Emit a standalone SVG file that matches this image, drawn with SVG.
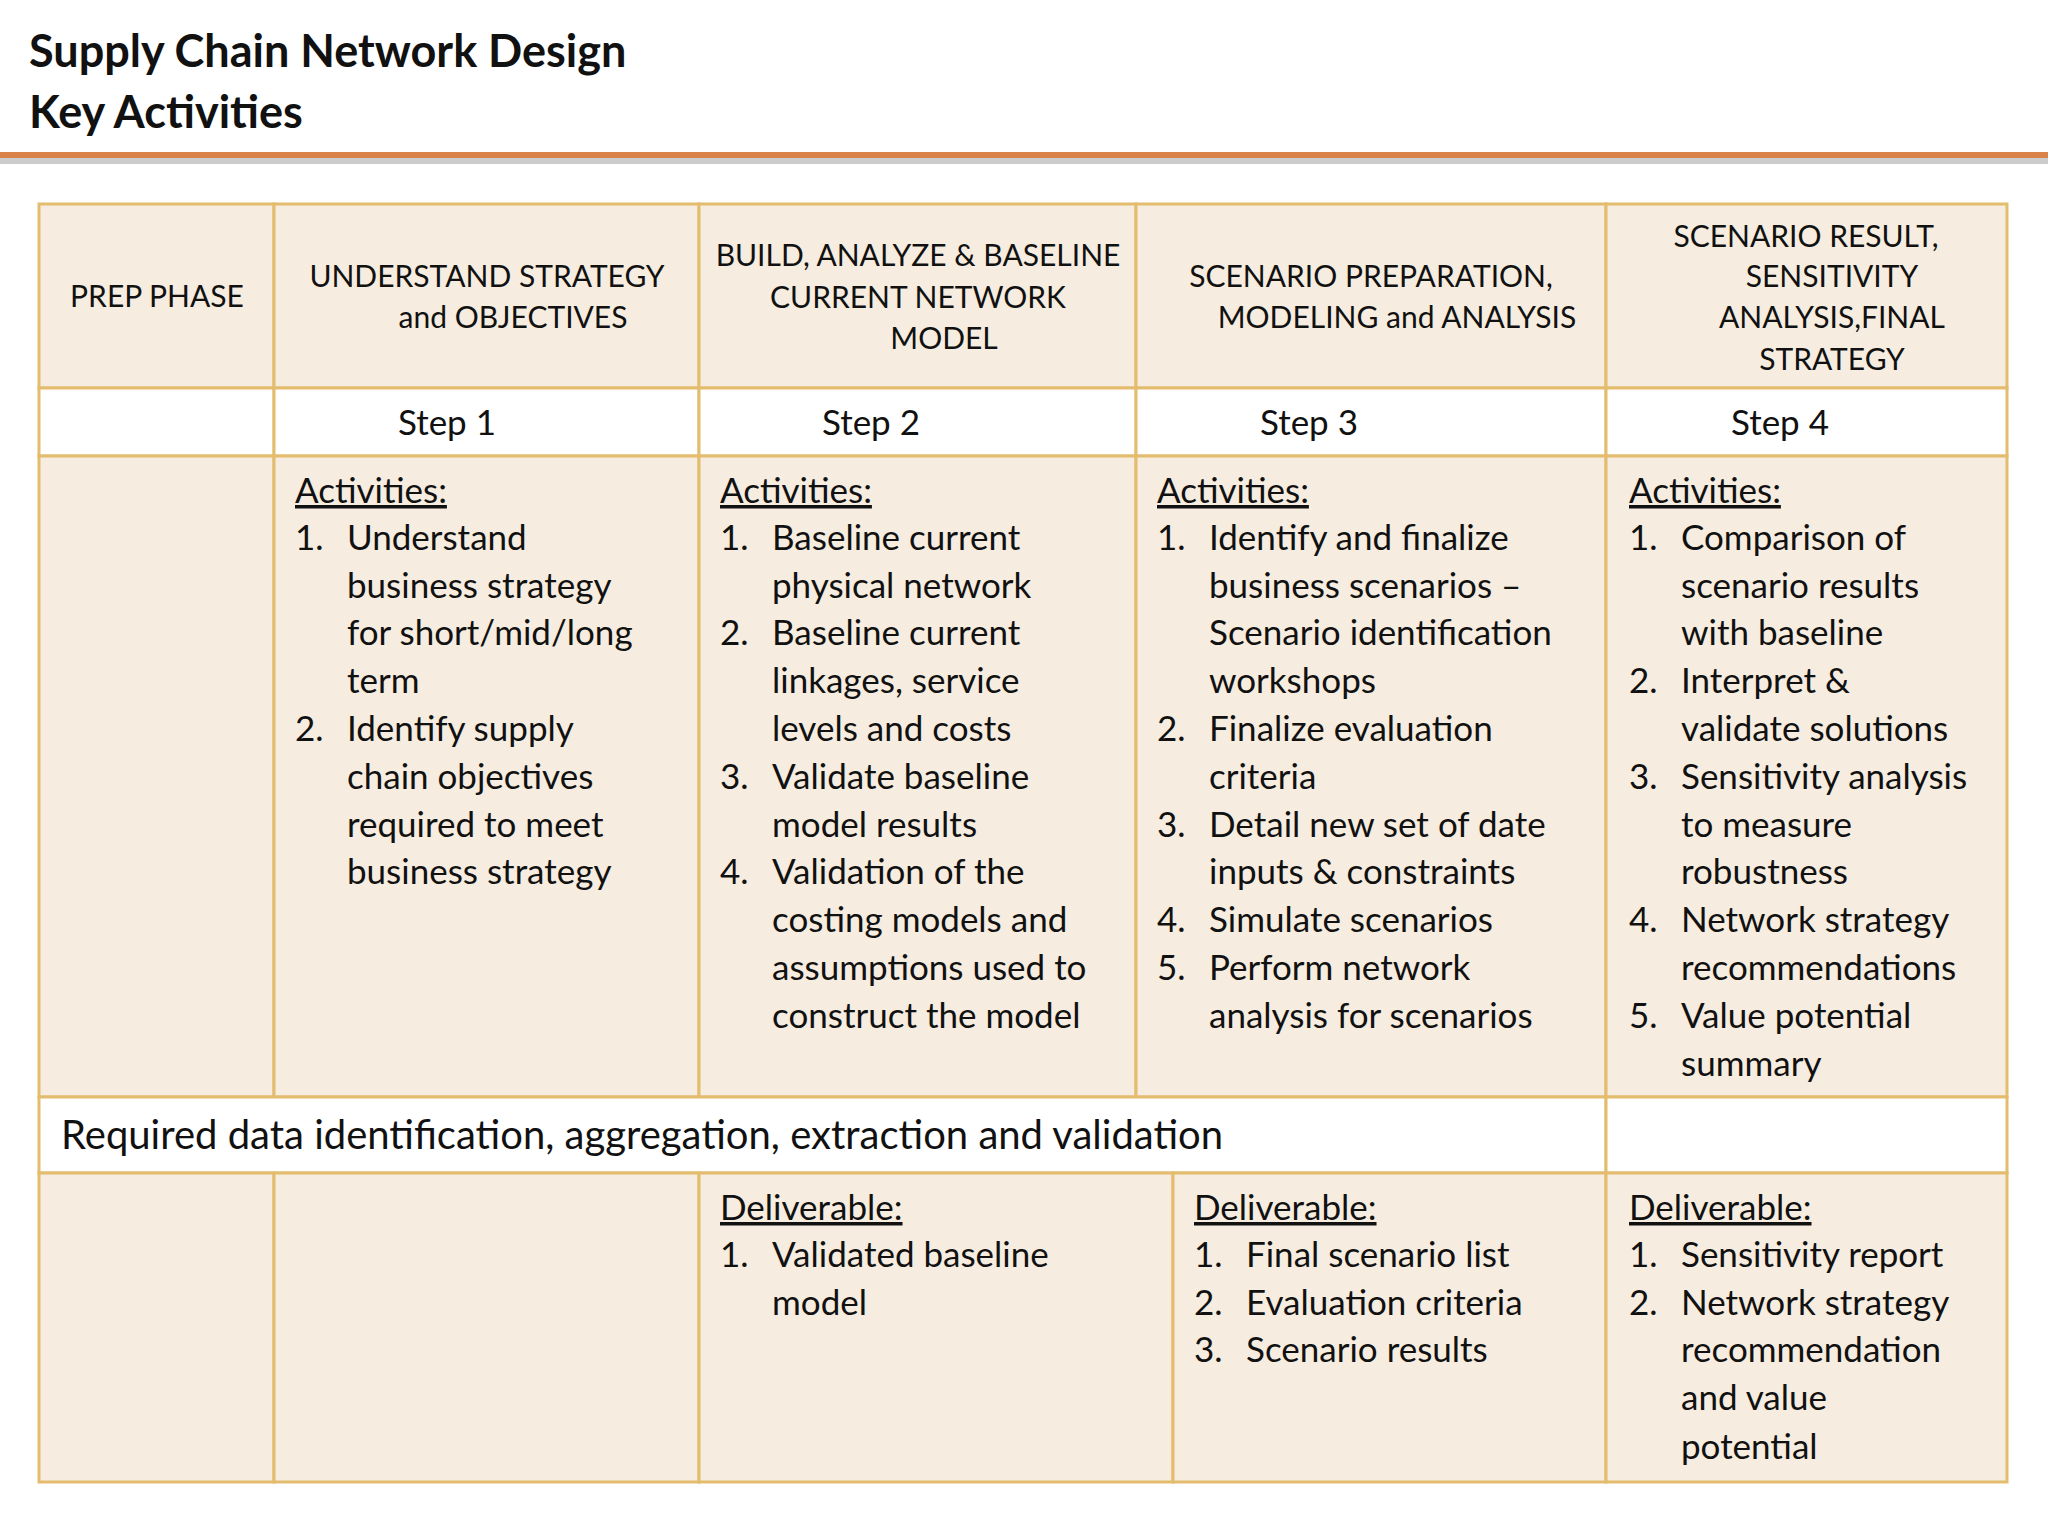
<svg xmlns="http://www.w3.org/2000/svg" width="2048" height="1536" viewBox="0 0 2048 1536">
<style>
text{font-family:Lato,"Open Sans",sans-serif;fill:#111}
.t{font-size:45px;font-weight:bold}
.h{font-size:30px;text-anchor:middle}
.s{font-size:35px;text-anchor:middle}
.b{font-size:35px}
.u{text-decoration:underline}
.c{fill:#F6ECDF;stroke:#E3BC6E;stroke-width:3}
.w{fill:#FFFFFF;stroke:#E3BC6E;stroke-width:3}
</style>
<rect width="2048" height="1536" fill="#fff"/>
<g id="title">
<text class="t" x="29" y="67">Supply Chain Network Design</text>
<text class="t" x="29" y="128">Key Activities</text>
<rect x="0" y="157" width="2048" height="7" fill="#9a9a9a" opacity="0.5"/>
<rect x="0" y="152" width="2048" height="6" fill="#D9834A"/>
</g>
<g id="header">
<rect class="c" x="39" y="204" width="235" height="184"/>
<rect class="c" x="274" y="204" width="425" height="184"/>
<rect class="c" x="699" y="204" width="437" height="184"/>
<rect class="c" x="1136" y="204" width="470" height="184"/>
<rect class="c" x="1606" y="204" width="401" height="184"/>
<text class="h" x="157" y="307">PREP PHASE</text>
<text class="h" x="487" y="287">UNDERSTAND STRATEGY</text>
<text class="h" x="513" y="328">and OBJECTIVES</text>
<text class="h" x="918" y="266">BUILD, ANALYZE &amp; BASELINE</text>
<text class="h" x="918" y="308">CURRENT  NETWORK</text>
<text class="h" x="944" y="349">MODEL</text>
<text class="h" x="1371" y="287">SCENARIO  PREPARATION,</text>
<text class="h" x="1397" y="328">MODELING and ANALYSIS</text>
<text class="h" x="1806" y="247">SCENARIO RESULT,</text>
<text class="h" x="1832" y="287">SENSITIVITY</text>
<text class="h" x="1832" y="328">ANALYSIS,FINAL</text>
<text class="h" x="1832" y="370">STRATEGY</text>
</g>
<g id="steps">
<rect class="w" x="39" y="388" width="235" height="68"/>
<rect class="w" x="274" y="388" width="425" height="68"/>
<rect class="w" x="699" y="388" width="437" height="68"/>
<rect class="w" x="1136" y="388" width="470" height="68"/>
<rect class="w" x="1606" y="388" width="401" height="68"/>
<text class="s" x="447" y="435">Step 1</text>
<text class="s" x="871" y="435">Step 2</text>
<text class="s" x="1309" y="435">Step 3</text>
<text class="s" x="1780" y="435">Step 4</text>
</g>
<g id="activities">
<rect class="c" x="39" y="456" width="235" height="641"/>
<rect class="c" x="274" y="456" width="425" height="641"/>
<rect class="c" x="699" y="456" width="437" height="641"/>
<rect class="c" x="1136" y="456" width="470" height="641"/>
<rect class="c" x="1606" y="456" width="401" height="641"/>
<g class="b">
<text class="b u" x="295" y="503">Activities:</text>
<text class="b" x="295" y="550">1.</text><text class="b" x="347" y="550">Understand</text>
<text class="b" x="347" y="598">business  strategy</text>
<text class="b" x="347" y="645">for short/mid/long</text>
<text class="b" x="347" y="693">term</text>
<text class="b" x="295" y="741">2.</text><text class="b" x="347" y="741">Identify supply</text>
<text class="b" x="347" y="789">chain objectives</text>
<text class="b" x="347" y="837">required to meet</text>
<text class="b" x="347" y="884">business strategy</text>

<text class="b u" x="720" y="503">Activities:</text>
<text class="b" x="720" y="550">1.</text><text class="b" x="772" y="550">Baseline current</text>
<text class="b" x="772" y="598">physical network</text>
<text class="b" x="720" y="645">2.</text><text class="b" x="772" y="645">Baseline current</text>
<text class="b" x="772" y="693">linkages, service</text>
<text class="b" x="772" y="741">levels and costs</text>
<text class="b" x="720" y="789">3.</text><text class="b" x="772" y="789">Validate baseline</text>
<text class="b" x="772" y="837">model results</text>
<text class="b" x="720" y="884">4.</text><text class="b" x="772" y="884">Validation of the</text>
<text class="b" x="772" y="932">costing models and</text>
<text class="b" x="772" y="980">assumptions used to</text>
<text class="b" x="772" y="1028">construct the model</text>

<text class="b u" x="1157" y="503">Activities:</text>
<text class="b" x="1157" y="550">1.</text><text class="b" x="1209" y="550">Identify and finalize</text>
<text class="b" x="1209" y="598">business scenarios –</text>
<text class="b" x="1209" y="645">Scenario identification</text>
<text class="b" x="1209" y="693">workshops</text>
<text class="b" x="1157" y="741">2.</text><text class="b" x="1209" y="741">Finalize evaluation</text>
<text class="b" x="1209" y="789">criteria</text>
<text class="b" x="1157" y="837">3.</text><text class="b" x="1209" y="837">Detail new set of date</text>
<text class="b" x="1209" y="884">inputs  &amp;  constraints</text>
<text class="b" x="1157" y="932">4.</text><text class="b" x="1209" y="932">Simulate scenarios</text>
<text class="b" x="1157" y="980">5.</text><text class="b" x="1209" y="980">Perform network</text>
<text class="b" x="1209" y="1028">analysis for scenarios</text>

<text class="b u" x="1629" y="503">Activities:</text>
<text class="b" x="1629" y="550">1.</text><text class="b" x="1681" y="550">Comparison of</text>
<text class="b" x="1681" y="598">scenario results</text>
<text class="b" x="1681" y="645">with baseline</text>
<text class="b" x="1629" y="693">2.</text><text class="b" x="1681" y="693">Interpret &amp;</text>
<text class="b" x="1681" y="741">validate solutions</text>
<text class="b" x="1629" y="789">3.</text><text class="b" x="1681" y="789">Sensitivity analysis</text>
<text class="b" x="1681" y="837">to measure</text>
<text class="b" x="1681" y="884">robustness</text>
<text class="b" x="1629" y="932">4.</text><text class="b" x="1681" y="932">Network strategy</text>
<text class="b" x="1681" y="980">recommendations</text>
<text class="b" x="1629" y="1028">5.</text><text class="b" x="1681" y="1028">Value potential</text>
<text class="b" x="1681" y="1076">summary</text>
</g>
</g>
<g id="data-row">
<rect class="w" x="39" y="1097" width="1567" height="76"/>
<rect class="w" x="1606" y="1097" width="401" height="76"/>
<text x="61" y="1149" style="font-size:40px">Required data identification, aggregation, extraction and validation</text>
</g>
<g id="deliverables">
<rect class="c" x="39" y="1173" width="235" height="309"/>
<rect class="c" x="274" y="1173" width="425" height="309"/>
<rect class="c" x="699" y="1173" width="474" height="309"/>
<rect class="c" x="1173" y="1173" width="433" height="309"/>
<rect class="c" x="1606" y="1173" width="401" height="309"/>
<text class="b u" x="720" y="1220">Deliverable:</text>
<text class="b" x="720" y="1267">1.</text><text class="b" x="772" y="1267">Validated baseline</text>
<text class="b" x="772" y="1315">model</text>
<text class="b u" x="1194" y="1220">Deliverable:</text>
<text class="b" x="1194" y="1267">1.</text><text class="b" x="1246" y="1267">Final scenario list</text>
<text class="b" x="1194" y="1315">2.</text><text class="b" x="1246" y="1315">Evaluation criteria</text>
<text class="b" x="1194" y="1362">3.</text><text class="b" x="1246" y="1362">Scenario results</text>
<text class="b u" x="1629" y="1220">Deliverable:</text>
<text class="b" x="1629" y="1267">1.</text><text class="b" x="1681" y="1267">Sensitivity report</text>
<text class="b" x="1629" y="1315">2.</text><text class="b" x="1681" y="1315">Network strategy</text>
<text class="b" x="1681" y="1362">recommendation</text>
<text class="b" x="1681" y="1410">and value</text>
<text class="b" x="1681" y="1459">potential</text>
</g>
</svg>
